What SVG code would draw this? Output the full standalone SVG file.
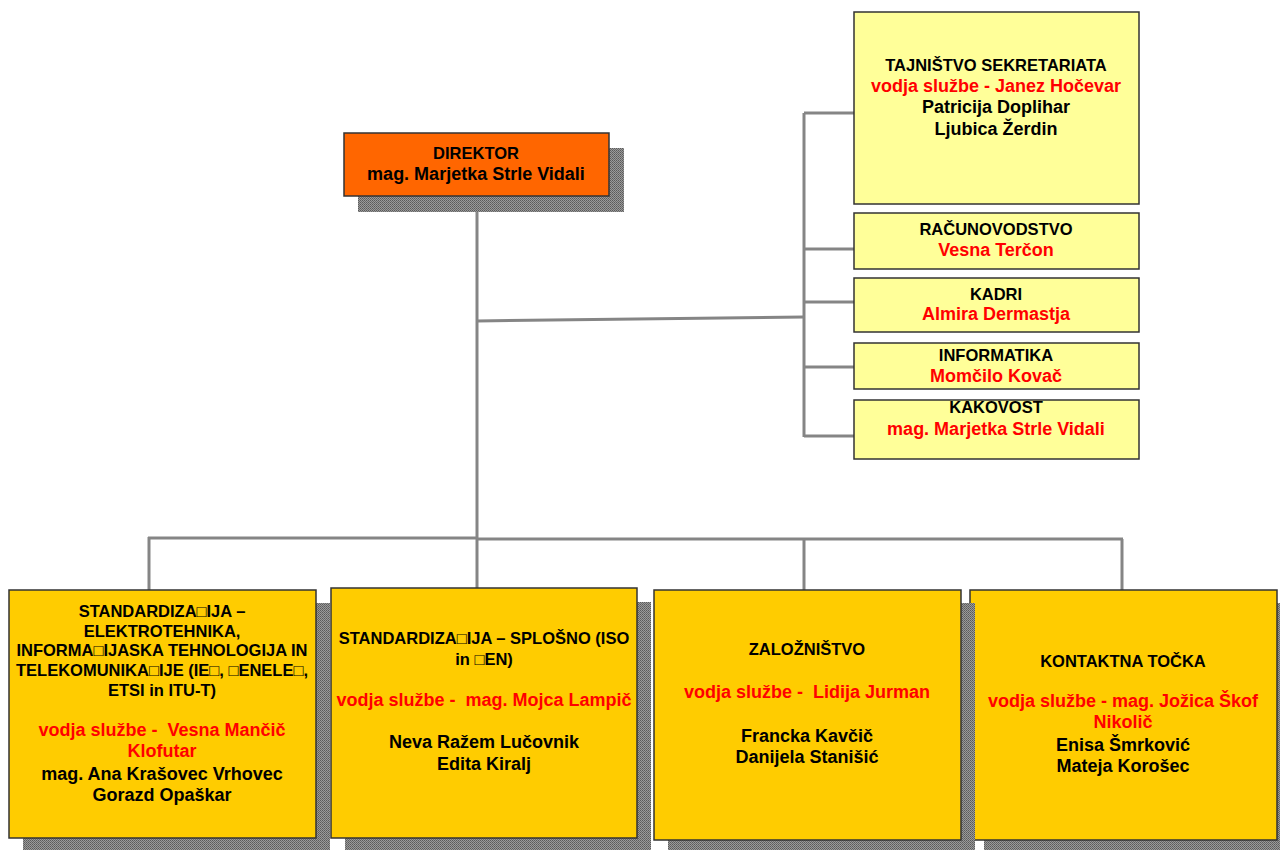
<svg xmlns="http://www.w3.org/2000/svg" width="1280" height="850" viewBox="0 0 1280 850">
<defs>
<pattern id="hatch" width="2" height="2" patternUnits="userSpaceOnUse">
<rect width="2" height="2" fill="#9a9a9a"/>
<rect width="1" height="1" fill="#5a5a5a"/>
<rect x="1" y="1" width="1" height="1" fill="#6a6a6a"/>
</pattern>
</defs>
<style>
text{font-family:"Liberation Sans",Arial,"DejaVu Sans",sans-serif;font-weight:bold;text-anchor:middle;white-space:pre}
.h{font-size:16.5px;fill:#000}
.n{font-size:18px;fill:#000}
.r{font-size:18px;fill:#FF0000}
.shadow{fill:url(#hatch)}
.dir{fill:#FF6600;stroke:#333;stroke-width:1.5}
.lt{fill:#FFFF99;stroke:#333;stroke-width:1.5}
.dk{fill:#FFCC00;stroke:#333;stroke-width:1.5}
.con{stroke:#858585;stroke-width:3;fill:none}
</style>
<rect width="1280" height="850" fill="#fff"/>
<g id="connectors">
<line class="con" x1="477" y1="196" x2="477" y2="589"/>
<line class="con" x1="477" y1="321" x2="804" y2="317"/>
<line class="con" x1="804" y1="113" x2="804" y2="437"/>
<line class="con" x1="804" y1="113" x2="854" y2="113"/>
<line class="con" x1="804" y1="249" x2="854" y2="249"/>
<line class="con" x1="804" y1="302" x2="854" y2="302"/>
<line class="con" x1="804" y1="367" x2="854" y2="367"/>
<line class="con" x1="804" y1="436" x2="854" y2="436"/>
<line class="con" x1="148" y1="538" x2="477" y2="538"/>
<line class="con" x1="477" y1="539" x2="1123" y2="539"/>
<line class="con" x1="149" y1="537" x2="149" y2="590"/>
<line class="con" x1="804" y1="539" x2="804" y2="590"/>
<line class="con" x1="1122" y1="539" x2="1122" y2="590"/>
</g>
<g id="direktor">
<rect class="shadow" x="358" y="148" width="266" height="64"/>
<rect class="dir" x="344" y="133" width="265" height="63"/>
<text class="h" x="476" y="159">DIREKTOR</text>
<text class="n" x="476" y="180">mag. Marjetka Strle Vidali</text>
</g>
<g id="tajnistvo">
<rect class="lt" x="854" y="12" width="285" height="192"/>
<text class="h" x="996" y="71">TAJNIŠTVO SEKRETARIATA</text>
<text class="r" x="996" y="92">vodja službe - Janez Hočevar</text>
<text class="n" x="996" y="113">Patricija Doplihar</text>
<text class="n" x="996" y="135">Ljubica Žerdin</text>
</g>
<g id="racunovodstvo">
<rect class="lt" x="854" y="213" width="285" height="56"/>
<text class="h" x="996" y="235">RAČUNOVODSTVO</text>
<text class="r" x="996" y="256">Vesna Terčon</text>
</g>
<g id="kadri">
<rect class="lt" x="854" y="278" width="285" height="54"/>
<text class="h" x="996" y="300">KADRI</text>
<text class="r" x="996" y="320">Almira Dermastja</text>
</g>
<g id="informatika">
<rect class="lt" x="854" y="343" width="285" height="46"/>
<text class="h" x="996" y="361">INFORMATIKA</text>
<text class="r" x="996" y="382">Momčilo Kovač</text>
</g>
<g id="kakovost">
<rect class="lt" x="854" y="400" width="285" height="59"/>
<text class="h" x="996" y="413">KAKOVOST</text>
<text class="r" x="996" y="435">mag. Marjetka Strle Vidali</text>
</g>
<g id="std-elektro">
<rect class="shadow" x="23" y="603" width="307" height="247"/>
<rect class="dk" x="9" y="590" width="307" height="248"/>
<text class="h" x="162" y="617">STANDARDIZA□IJA –</text>
<text class="h" x="162" y="637">ELEKTROTEHNIKA,</text>
<text class="h" x="162" y="656">INFORMA□IJASKA TEHNOLOGIJA IN</text>
<text class="h" x="162" y="676">TELEKOMUNIKA□IJE (IE□, □ENELE□,</text>
<text class="h" x="162" y="696">ETSI in ITU-T)</text>
<text class="r" x="162" y="736">vodja službe -  Vesna Mančič</text>
<text class="r" x="162" y="757">Klofutar</text>
<text class="n" x="162" y="780">mag. Ana Krašovec Vrhovec</text>
<text class="n" x="162" y="801">Gorazd Opaškar</text>
</g>
<g id="std-splosno">
<rect class="shadow" x="345" y="602" width="306" height="248"/>
<rect class="dk" x="331" y="588" width="306" height="250"/>
<text class="h" x="484" y="644">STANDARDIZA□IJA – SPLOŠNO (ISO</text>
<text class="h" x="484" y="665">in □EN)</text>
<text class="r" x="484" y="706">vodja službe -  mag. Mojca Lampič</text>
<text class="n" x="484" y="748">Neva Ražem Lučovnik</text>
<text class="n" x="484" y="770">Edita Kiralj</text>
</g>
<g id="kontaktna">
<rect class="shadow" x="984" y="603" width="296" height="247"/>
<rect class="dk" x="970" y="590" width="307" height="250"/>
<text class="h" x="1123" y="667">KONTAKTNA TOČKA</text>
<text class="r" x="1123" y="707">vodja službe - mag. Jožica Škof</text>
<text class="r" x="1123" y="728">Nikolič</text>
<text class="n" x="1123" y="751">Enisa Šmrković</text>
<text class="n" x="1123" y="772">Mateja Korošec</text>
</g>
<g id="zaloznistvo">
<rect class="shadow" x="668" y="603" width="307" height="247"/>
<rect class="dk" x="654" y="590" width="307" height="250"/>
<text class="h" x="807" y="655">ZALOŽNIŠTVO</text>
<text class="r" x="807" y="698">vodja službe -  Lidija Jurman</text>
<text class="n" x="807" y="742">Francka Kavčič</text>
<text class="n" x="807" y="763">Danijela Stanišić</text>
</g>
</svg>
